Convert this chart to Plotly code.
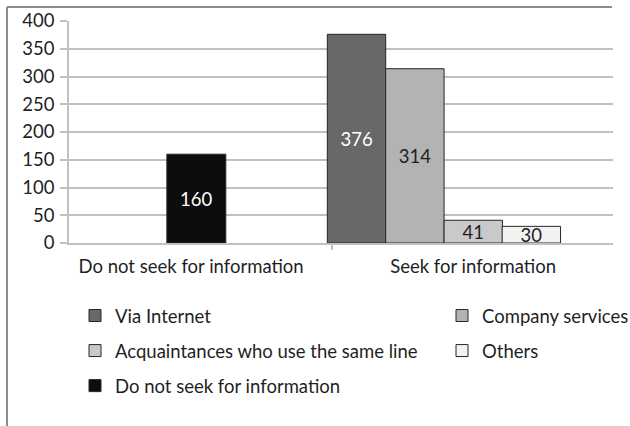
import plotly.graph_objects as go

# ---- data ----
categories = ["Do not seek for information", "Seek for information"]
seek_series = ["Via Internet", "Company services", "Acquaintances who use the same line", "Others"]
seek_values = [376, 314, 41, 30]
no_seek_series = "Do not seek for information"
no_seek_value = 160
y_ticks = [0, 50, 100, 150, 200, 250, 300, 350, 400]

# ---- styles ----
seek_colors = ["#686868", "#b3b3b3", "#c9c9c9", "#f2f2f2"]
seek_text_colors = ["#ffffff", "#1f1f1f", "#1f1f1f", "#1f1f1f"]
seek_offsets = [-0.517, -0.310, -0.103, 0.103]
seek_legends = ["legend", "legend2", "legend", "legend2"]
bar_w = 0.207
FONT = "Lato"
FS = 18.5
TXT = "#1f1f1f"
GRID = "#c0c0c0"

fig = go.Figure()
for name, val, col, tcol, off, lg in zip(seek_series, seek_values, seek_colors,
                                         seek_text_colors, seek_offsets, seek_legends):
    fig.add_trace(go.Bar(
        x=[categories[1]], y=[val], name=name, legend=lg, legendgroup=name,
        offset=off, width=bar_w,
        marker=dict(color=col, line=dict(color="#262626", width=1)),
        text=[str(val)], textposition="inside", insidetextanchor="middle",
        textangle=0, textfont=dict(color=tcol, size=FS, family=FONT),
        hoverinfo="skip",
    ))

fig.add_trace(go.Bar(
    x=[categories[0]], y=[no_seek_value], name=no_seek_series, legend="legend",
    legendgroup=no_seek_series,
    offset=-0.086, width=0.209,
    marker=dict(color="#0d0d0d", line=dict(color="#262626", width=1)),
    text=[str(no_seek_value)], textposition="inside", insidetextanchor="middle",
    textangle=0, textfont=dict(color="#ffffff", size=FS, family=FONT),
    hoverinfo="skip",
))

L, R, T, B = 69, 17, 21, 183
W, H = 630, 426
pw, ph = W - L - R, H - T - B

def px(x):
    return (x - L) / pw

def py(y):
    return (H - B - y) / ph

legend_common = dict(orientation="v", xanchor="left", yanchor="top",
                     font=dict(family=FONT, size=FS, color=TXT),
                     bgcolor="rgba(0,0,0,0)", tracegroupgap=8)

fig.update_layout(
    width=W, height=H,
    margin=dict(l=L, r=R, t=T, b=B, autoexpand=False),
    paper_bgcolor="white", plot_bgcolor="white",
    barmode="overlay",
    font=dict(family=FONT, size=FS, color=TXT),
    uniformtext=dict(minsize=FS, mode="show"),
    showlegend=True,
    legend=dict(x=px(75), y=py(297), **legend_common),
    legend2=dict(x=px(442), y=py(297), **legend_common),
    xaxis=dict(
        type="category", categoryorder="array", categoryarray=categories,
        range=[-0.433, 1.496],
        showline=True, linecolor=GRID, linewidth=1.5,
        ticks="outside", tickson="boundaries", ticklen=5, tickcolor=GRID, tickwidth=1.5,
        showgrid=False, ticklabelstandoff=6,
        tickfont=dict(family=FONT, size=FS, color=TXT),
    ),
    yaxis=dict(
        range=[0, 400], tickvals=y_ticks,
        showline=True, linecolor=GRID, linewidth=1.5,
        showgrid=True, gridcolor=GRID, gridwidth=1.5,
        ticks="outside", ticklen=7, tickcolor=GRID, tickwidth=1.5,
        ticklabelstandoff=2, zeroline=False,
        tickfont=dict(family=FONT, size=FS, color=TXT),
    ),
    shapes=[
        dict(type="line", xref="paper", yref="paper", x0=px(7), x1=px(612), y0=py(7), y1=py(7),
             line=dict(color="#8c8c8c", width=2)),
        dict(type="line", xref="paper", yref="paper", x0=px(7), x1=px(7), y0=py(7), y1=py(430),
             line=dict(color="#8c8c8c", width=2)),
    ],
)

fig.write_html("out.html", config={"displayModeBar": False},
               post_script="document.body.style.margin='0';")
